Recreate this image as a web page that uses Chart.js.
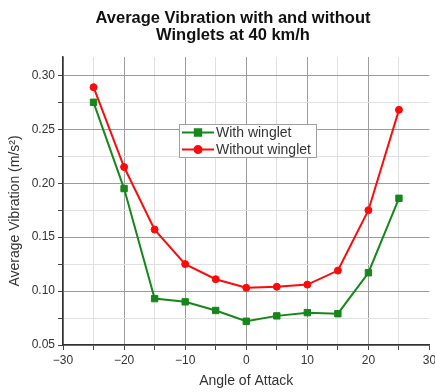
<!DOCTYPE html>
<html>
<head>
<meta charset="utf-8">
<title>Average Vibration with and without Winglets at 40 km/h</title>
<script src="https://cdn.jsdelivr.net/npm/chart.js@4/dist/chart.umd.min.js"></script>
<style>
  html, body { margin: 0; padding: 0; background: #fff; }
  #wrap { width: 435px; height: 392px; position: relative; }
</style>
</head>
<body>
<div id="wrap"><canvas id="chart" width="435" height="392"></canvas></div>
<script>
  /* Angle of attack (deg) and measured average vibration (m/s^2) */
  var angles = [-25, -20, -15, -10, -5, 0, 5, 10, 15, 20, 25];
  var withWinglet = [0.275, 0.195, 0.093, 0.090, 0.082, 0.072, 0.077, 0.080, 0.079, 0.117, 0.186];
  var withoutWinglet = [0.289, 0.215, 0.157, 0.125, 0.111, 0.103, 0.104, 0.106, 0.119, 0.175, 0.268];

  var titleLines = ['Average Vibration with and without', 'Winglets at 40 km/h'];
  var seriesNames = ['With winglet', 'Without winglet'];

  var GREEN = '#16871a';
  var RED = '#ff0a0a';
  var FONT = "'Liberation Sans', Arial, sans-serif";

  function pairs(xs, ys) {
    return xs.map(function (x, i) { return { x: x, y: ys[i] }; });
  }

  function fmtTick(v) {
    var s = String(v);
    return v < 0 ? '\u2212' + s.slice(1) : s;
  }

  /* Title, rotated y title and boxed legend drawn straight on the canvas */
  var decor = {
    id: 'decor',
    afterDraw: function (chart) {
      var ctx = chart.ctx;
      ctx.save();
      ctx.fillStyle = '#111';
      ctx.textAlign = 'center';
      ctx.textBaseline = 'alphabetic';
      ctx.font = 'bold 16.5px ' + FONT;
      ctx.fillText(titleLines[0], 233, 23);
      ctx.fillText(titleLines[1], 233, 40);

      ctx.translate(15, 211);
      ctx.rotate(-Math.PI / 2);
      ctx.textBaseline = 'middle';
      ctx.fillStyle = '#333';
      ctx.font = '14px ' + FONT;
      ctx.fillText('Average Vibration (m/s\u00B2)', 0, 0);
      ctx.restore();

      ctx.save();
      ctx.fillStyle = '#fff';
      ctx.fillRect(179.5, 124.5, 137, 33);
      ctx.strokeStyle = '#a0a0a0';
      ctx.lineWidth = 1;
      ctx.strokeRect(179.5, 124.5, 137, 33);
      chart.data.datasets.forEach(function (ds, i) {
        var y = 132.5 + i * 17;
        ctx.strokeStyle = ds.borderColor;
        ctx.lineWidth = 2;
        ctx.beginPath();
        ctx.moveTo(182, y);
        ctx.lineTo(214, y);
        ctx.stroke();
        ctx.fillStyle = ds.pointBackgroundColor;
        ctx.strokeStyle = ds.pointBorderColor;
        Chart.helpers.drawPoint(ctx, {
          pointStyle: ds.pointStyle, radius: ds.pointRadius, rotation: 0, borderWidth: 1
        }, 198, y);
        ctx.fillStyle = '#333';
        ctx.font = '14px ' + FONT;
        ctx.textAlign = 'left';
        ctx.textBaseline = 'middle';
        ctx.fillText(ds.label, 216, y + 1);
      });
      ctx.restore();
    }
  };

  function noEdgePadding(scale) {
    scale.paddingLeft = 0;
    scale.paddingRight = 0;
    scale.paddingTop = 0;
    scale.paddingBottom = 0;
  }

  new Chart(document.getElementById('chart'), {
    type: 'scatter',
    data: {
      datasets: [{
        label: seriesNames[0],
        data: pairs(angles, withWinglet),
        showLine: true,
        borderColor: GREEN,
        borderWidth: 2,
        pointStyle: 'rect',
        pointRadius: 4.5,
        pointBackgroundColor: GREEN,
        pointBorderColor: GREEN,
        pointBorderWidth: 1
      }, {
        label: seriesNames[1],
        data: pairs(angles, withoutWinglet),
        showLine: true,
        borderColor: RED,
        borderWidth: 2,
        pointStyle: 'circle',
        pointRadius: 3.5,
        pointBackgroundColor: RED,
        pointBorderColor: RED,
        pointBorderWidth: 1
      }]
    },
    options: {
      responsive: false,
      devicePixelRatio: 1,
      animation: false,
      layout: { padding: { left: 0, top: 57, right: 5, bottom: 0 } },
      plugins: {
        legend: { display: false },
        title: { display: false },
        tooltip: { enabled: false }
      },
      scales: {
        x: {
          type: 'linear',
          min: -30,
          max: 30,
          afterFit: function (s) { s.height = 47; noEdgePadding(s); },
          ticks: {
            stepSize: 5,
            padding: 3,
            color: '#333',
            font: { family: FONT, size: 12 },
            maxRotation: 0,
            autoSkip: false,
            callback: function (v) { return v % 10 === 0 ? fmtTick(v) : ''; }
          },
          grid: {
            drawTicks: true,
            tickLength: 5,
            tickColor: '#444',
            color: function (c) {
              if (!c.tick) return 'transparent';
              var v = c.tick.value;
              if (v === 30) return 'transparent';
              return v % 10 === 0 ? '#9c9c9c' : '#e0e0e0';
            }
          },
          border: { display: true, color: '#333', width: 1.5 },
          title: {
            display: true,
            text: 'Angle of Attack',
            color: '#333',
            font: { family: FONT, size: 14 },
            padding: { top: 4, bottom: 2 }
          }
        },
        y: {
          type: 'linear',
          min: 0.05,
          max: 0.317,
          afterFit: function (s) { s.width = 63; noEdgePadding(s); },
          ticks: {
            stepSize: 0.025,
            includeBounds: false,
            padding: 3,
            color: '#333',
            font: { family: FONT, size: 12 },
            autoSkip: false,
            callback: function (v) {
              return Math.round(v * 1000) % 50 === 0 ? v.toFixed(2) : '';
            }
          },
          grid: {
            drawTicks: true,
            tickLength: 5,
            tickColor: '#444',
            color: function (c) {
              if (!c.tick) return 'transparent';
              return Math.round(c.tick.value * 1000) % 50 === 0 ? '#9c9c9c' : '#e0e0e0';
            }
          },
          border: { display: true, color: '#333', width: 1.5 }
        }
      }
    },
    plugins: [decor]
  });
</script>
</body>
</html>
